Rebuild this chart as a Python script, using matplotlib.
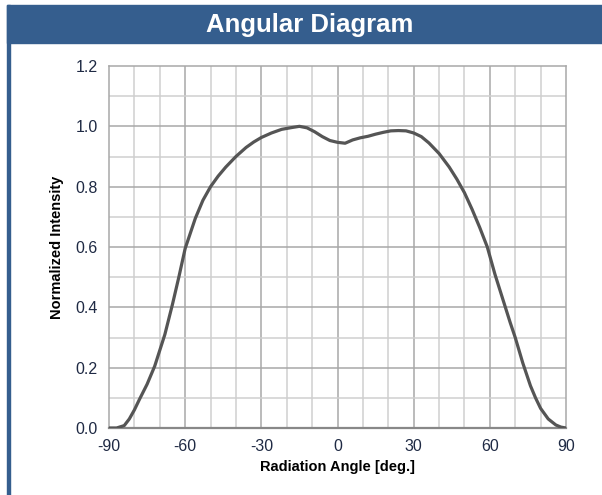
import numpy as np
import matplotlib
matplotlib.use("Agg")
import matplotlib.pyplot as plt
from matplotlib.patches import Rectangle

# radiation angle [deg] and normalized intensity
angle = [-90, -87, -84, -82, -80, -78, -75, -72, -68, -65, -62.5, -60, -56, -53,
         -50, -47, -44, -40, -36, -33, -30, -26, -22, -18, -15, -12, -9, -6, -3,
         0, 3, 6, 9, 12, 15, 18, 21, 24, 27, 30, 33, 36, 40, 44, 47, 50, 53, 56,
         59, 62, 65, 68, 70, 73, 76, 78, 80, 83, 86, 88, 90]
intensity = [0.0, 0.0, 0.008, 0.03, 0.06, 0.095, 0.145, 0.205, 0.31, 0.41, 0.50,
             0.595, 0.695, 0.755, 0.80, 0.835, 0.865, 0.90, 0.93, 0.948, 0.963,
             0.978, 0.99, 0.996, 1.0, 0.995, 0.982, 0.966, 0.953, 0.947, 0.944,
             0.955, 0.962, 0.967, 0.974, 0.98, 0.985, 0.986, 0.985, 0.978, 0.966,
             0.945, 0.91, 0.865, 0.825, 0.78, 0.725, 0.665, 0.60, 0.51, 0.43, 0.35,
             0.30, 0.215, 0.14, 0.10, 0.065, 0.03, 0.01, 0.003, 0.0]

x_ticks = [-90, -60, -30, 0, 30, 60, 90]
y_ticks = [0.0, 0.2, 0.4, 0.6, 0.8, 1.0, 1.2]

plt.rcParams['font.family'] = ['Liberation Sans', 'DejaVu Sans']
plt.rcParams['axes.unicode_minus'] = False

fig = plt.figure(figsize=(6.02, 4.95), dpi=100)
W, H = 602, 495

# title bar and left frame line
fig.patches.append(Rectangle((7 / W, 1 - 43 / H), 1 - 7 / W, 38 / H,
                             transform=fig.transFigure, color='#355E8E', zorder=0))
fig.patches.append(Rectangle((7 / W, 0), 3 / W, 1 - 5 / H,
                             transform=fig.transFigure, color='#355E8E', zorder=0))
fig.text(0.514, 1 - 25 / H, 'Angular Diagram', color='white', fontsize=18.5,
         fontweight='bold', ha='center', va='center')

ax = fig.add_axes([109 / W, 1 - 428 / H, 457 / W, 362 / H])

# grid: light every 10 deg / 0.1, darker on labelled ticks
for v in np.arange(-80, 90, 10):
    c = '#A8A8A8' if v % 30 == 0 else '#CFCFCF'
    ax.axvline(v, color=c, lw=1.1, zorder=1)
for v in np.arange(0.1, 1.2, 0.1):
    c = '#A8A8A8' if round(v * 10) % 2 == 0 else '#CFCFCF'
    ax.axhline(v, color=c, lw=1.1, zorder=1)

ax.plot(angle, intensity, color='#555555', lw=2.3, zorder=3,
        solid_capstyle='round', solid_joinstyle='round')

ax.set_xlim(-90, 90)
ax.set_ylim(0, 1.2)
ax.set_xticks(x_ticks)
ax.set_yticks(y_ticks)
ax.set_yticklabels(['%.1f' % v for v in y_ticks])
ax.tick_params(length=0, labelsize=11.5, labelcolor='#1F2A44', pad=8)
ax.tick_params(axis='x', pad=8)

for s in ['top', 'right', 'left']:
    ax.spines[s].set_color('#A8A8A8')
    ax.spines[s].set_linewidth(1.1)
ax.spines['bottom'].set_color('#888888')
ax.spines['bottom'].set_linewidth(1.6)

ax.set_xlabel('Radiation Angle [deg.]', fontsize=10.5, fontweight='bold', labelpad=4)
ax.set_ylabel('Normalized Intensity', fontsize=10.5, fontweight='bold', labelpad=8)

fig.savefig('out.png', dpi=100)
